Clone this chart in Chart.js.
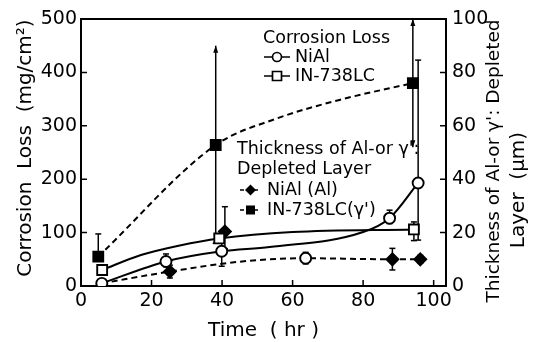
<!DOCTYPE html>
<html lang="en">
<head>
  <meta charset="UTF-8">
  <title>Corrosion Loss and Depleted Layer</title>
  <script src="https://cdn.jsdelivr.net/npm/chart.js"></script>
  <style>
    body { margin: 0; background: #fff; }
    canvas { display: block; }
  </style>
</head>
<body>
<canvas id="myChart" width="542" height="342"></canvas>
<script>
  // tick labels
  const timeTicks = [0, 20, 40, 60, 80, 100];
  const lossTicks = [0, 100, 200, 300, 400, 500];
  const depthTicks = [0, 20, 40, 60, 80, 100];

  // Corrosion loss, NiAl (mg/cm2)
  const lossNiAlTime = [5.9, 24.1, 39.9, 87.5, 95.6];
  const lossNiAl = [5, 46, 65, 127, 193];
  const lossNiAlLo = [null, 36, 37, 117, 86];
  const lossNiAlHi = [null, 60, 80, 142, 423];
  const lossNiAlCurveTime = [5.9, 24.1, 39.9, 53.5, 80, 87.5, 95.6];
  const lossNiAlCurve = [5, 46, 65, 73, 101, 127, 193];

  // Corrosion loss, IN-738LC (mg/cm2)
  const lossINTime = [6, 39.2, 94.4];
  const lossIN = [30, 89, 106];
  const lossINLo = [null, null, 85];
  const lossINHi = [null, null, 120];
  const lossINCurveTime = [6, 17, 28, 39.2, 60, 94.4];
  const lossINCurve = [30, 58, 76, 89, 101, 106];

  // Depleted layer, NiAl (Al) (um)
  const depNiAlTime = [25.2, 40.8, 63.7, 88.3, 96.2];
  const depNiAl = [5.4, 20.4, 10.4, 10, 10];
  const depNiAlLo = [3, 14, 8.3, 6, 8.5];
  const depNiAlHi = [7.8, 29.7, 12.6, 14.1, 11.5];
  const depNiAlCurveTime = [5.9, 25.2, 45, 63.7, 88.3, 96.2];
  const depNiAlCurve = [1, 5.4, 9.1, 10.4, 10, 10];

  // Depleted layer, IN-738LC (gamma') (um)
  const depINTime = [4.9, 38.2, 94.1];
  const depIN = [11, 52.8, 76];
  const depINLo = [null, 16, 52];
  const depINHi = [19.5, 90, 100];
  const depINCurveTime = [4.9, 38.2, 55, 73, 94.1];
  const depINCurve = [11, 52.8, 62.5, 69.6, 76];

  const FONT = "'DejaVu Sans', sans-serif";
  const pts = (xs, ys) => xs.map((x, i) => ({ x: x, y: ys[i] }));

  const curve = (xs, ys, axis, dashed) => ({
    data: pts(xs, ys), yAxisID: axis, order: 2,
    borderColor: '#000', borderWidth: 2, borderDash: dashed ? [6, 4] : [],
    pointRadius: 0, fill: false, cubicInterpolationMode: 'monotone'
  });

  const marks = (xs, ys, axis, style, radius, bg, lo, hi, extra) => Object.assign({
    data: pts(xs, ys), yAxisID: axis, order: 1, showLine: false,
    pointStyle: style, pointRadius: radius, pointBorderColor: '#000',
    pointBorderWidth: 1.9, pointBackgroundColor: bg,
    errLo: lo, errHi: hi
  }, extra || {});

  // error bars drawn under the markers
  const errorBars = {
    id: 'errorBars',
    beforeDatasetsDraw(chart) {
      const ctx = chart.ctx;
      chart.data.datasets.forEach((ds, i) => {
        if (!ds.errLo) return;
        const meta = chart.getDatasetMeta(i);
        const ys = chart.scales[ds.yAxisID];
        ctx.save();
        ctx.strokeStyle = '#000';
        ctx.fillStyle = '#000';
        ctx.lineWidth = 1.5;
        meta.data.forEach((p, j) => {
          const lo = ds.errLo[j], hi = ds.errHi[j];
          if (lo == null && hi == null) return;
          const y0 = ys.getPixelForValue(lo == null ? ds.data[j].y : lo);
          const y1 = ys.getPixelForValue(hi == null ? ds.data[j].y : hi);
          ctx.beginPath();
          ctx.moveTo(p.x, y0);
          ctx.lineTo(p.x, y1);
          ctx.stroke();
          const ends = [[y1, hi, ds.arrowHi && ds.arrowHi[j], -1], [y0, lo, ds.arrowLo && ds.arrowLo[j], 1]];
          ends.forEach(([y, v, arrow, dir]) => {
            if (v == null) return;
            if (arrow) {
              ctx.beginPath();
              ctx.moveTo(p.x, y);
              ctx.lineTo(p.x - 2.5, y - dir * 7);
              ctx.lineTo(p.x + 2.5, y - dir * 7);
              ctx.closePath();
              ctx.fill();
            } else {
              ctx.beginPath();
              ctx.moveTo(p.x - 3, y);
              ctx.lineTo(p.x + 3, y);
              ctx.stroke();
            }
          });
        });
        ctx.restore();
      });
    }
  };

  // inward ticks, top frame, axis titles and the two legend blocks
  const decor = {
    id: 'decor',
    afterDraw(chart) {
      const ctx = chart.ctx;
      const a = chart.chartArea;
      const { x, y, y2 } = chart.scales;
      ctx.save();
      ctx.strokeStyle = '#000';
      ctx.fillStyle = '#000';
      ctx.lineWidth = 1.5;
      ctx.beginPath();
      timeTicks.forEach(v => { const px = x.getPixelForValue(v); ctx.moveTo(px, a.bottom); ctx.lineTo(px, a.bottom - 6); });
      lossTicks.forEach(v => { const py = y.getPixelForValue(v); ctx.moveTo(a.left, py); ctx.lineTo(a.left + 6, py); });
      depthTicks.forEach(v => { const py = y2.getPixelForValue(v); ctx.moveTo(a.right, py); ctx.lineTo(a.right - 6, py); });
      ctx.stroke();
      ctx.lineWidth = 2;
      ctx.beginPath();
      ctx.moveTo(a.left - 1, a.top);
      ctx.lineTo(a.right + 1, a.top);
      ctx.stroke();

      // axis titles
      ctx.textBaseline = 'middle';
      ctx.textAlign = 'center';
      ctx.font = '20px ' + FONT;
      ctx.fillText('Time  ( hr )', (a.left + a.right) / 2, 331);
      const vtext = (txt, cx, cy, font) => {
        ctx.save();
        ctx.translate(cx, cy);
        ctx.rotate(-Math.PI / 2);
        ctx.font = font;
        ctx.fillText(txt, 0, 0);
        ctx.restore();
      };
      vtext('Corrosion  Loss  (mg/cm²)', 26, 148, '20px ' + FONT);
      vtext("Thickness of Al-or γ': Depleted", 494, 161, '18.5px ' + FONT);
      vtext('Layer  (μm)', 519, 190, '20px ' + FONT);

      // legends
      ctx.textAlign = 'left';
      ctx.font = '17.5px ' + FONT;
      ctx.lineWidth = 1.7;
      ctx.fillText('Corrosion Loss', 263, 38);
      ctx.fillText('NiAl', 295, 57);
      ctx.fillText('IN-738LC', 295, 76);
      ctx.fillText("Thickness of Al-or γ':", 237, 149);
      ctx.fillText('Depleted Layer', 237, 169);
      ctx.fillText('NiAl (Al)', 267, 190);
      ctx.fillText("IN-738LC(γ')", 267, 210);

      ctx.beginPath();
      ctx.moveTo(264, 57); ctx.lineTo(290, 57);
      ctx.moveTo(264, 76); ctx.lineTo(290, 76);
      ctx.stroke();
      ctx.fillStyle = '#fff';
      ctx.beginPath(); ctx.arc(277, 57, 4.5, 0, Math.PI * 2); ctx.fill(); ctx.stroke();
      ctx.beginPath(); ctx.rect(272.5, 71.5, 9, 9); ctx.fill(); ctx.stroke();

      ctx.fillStyle = '#000';
      ctx.setLineDash([4, 3]);
      ctx.beginPath();
      ctx.moveTo(240, 190); ctx.lineTo(261, 190);
      ctx.moveTo(240, 210); ctx.lineTo(261, 210);
      ctx.stroke();
      ctx.setLineDash([]);
      ctx.beginPath();
      ctx.moveTo(250.5, 184.5); ctx.lineTo(256, 190); ctx.lineTo(250.5, 195.5); ctx.lineTo(245, 190);
      ctx.closePath(); ctx.fill();
      ctx.fillRect(246, 205.5, 9, 9);
      ctx.restore();
    }
  };

  const tickFont = { family: FONT, size: 19 };
  const setTicks = list => scale => { scale.ticks = list.map(v => ({ value: v })); };

  const ctx = document.getElementById('myChart').getContext('2d');
  new Chart(ctx, {
    type: 'line',
    data: {
      datasets: [
        curve(lossNiAlCurveTime, lossNiAlCurve, 'y', false),
        curve(lossINCurveTime, lossINCurve, 'y', false),
        curve(depNiAlCurveTime, depNiAlCurve, 'y2', true),
        curve(depINCurveTime, depINCurve, 'y2', true),
        marks(lossNiAlTime, lossNiAl, 'y', 'circle', 5.5, '#fff', lossNiAlLo, lossNiAlHi),
        marks(lossINTime, lossIN, 'y', 'rect', 7, '#fff', lossINLo, lossINHi),
        marks(depNiAlTime, depNiAl, 'y2', ['rectRot', 'rectRot', 'circle', 'rectRot', 'rectRot'],
          [6, 6, 5.5, 6, 6], ['#000', '#000', '#fff', '#000', '#000'], depNiAlLo, depNiAlHi),
        marks(depINTime, depIN, 'y2', 'rect', 7, '#000', depINLo, depINHi,
          { arrowHi: [false, true, true], arrowLo: [false, false, true] })
      ]
    },
    options: {
      responsive: false,
      animation: false,
      layout: { padding: { top: 19, left: 0, right: 0, bottom: 0 } },
      plugins: { legend: { display: false }, tooltip: { enabled: false } },
      scales: {
        x: {
          type: 'linear', min: 0, max: 103.5,
          afterBuildTicks: setTicks(timeTicks),
          afterFit: s => { s.height = 56; },
          ticks: { font: tickFont, color: '#000', padding: 4, maxRotation: 0, autoSkip: false },
          grid: { display: false, drawTicks: false },
          border: { color: '#000', width: 2 }
        },
        y: {
          position: 'left', min: 0, max: 500,
          afterBuildTicks: setTicks(lossTicks),
          afterFit: s => { s.width = 81; },
          ticks: { font: tickFont, color: '#000', padding: 4 },
          grid: { display: false, drawTicks: false },
          border: { color: '#000', width: 2 }
        },
        y2: {
          position: 'right', min: 0, max: 100,
          afterBuildTicks: setTicks(depthTicks),
          afterFit: s => { s.width = 96; },
          ticks: { font: tickFont, color: '#000', padding: 6 },
          grid: { display: false, drawTicks: false },
          border: { color: '#000', width: 2 }
        }
      }
    },
    plugins: [errorBars, decor]
  });
</script>
</body>
</html>
